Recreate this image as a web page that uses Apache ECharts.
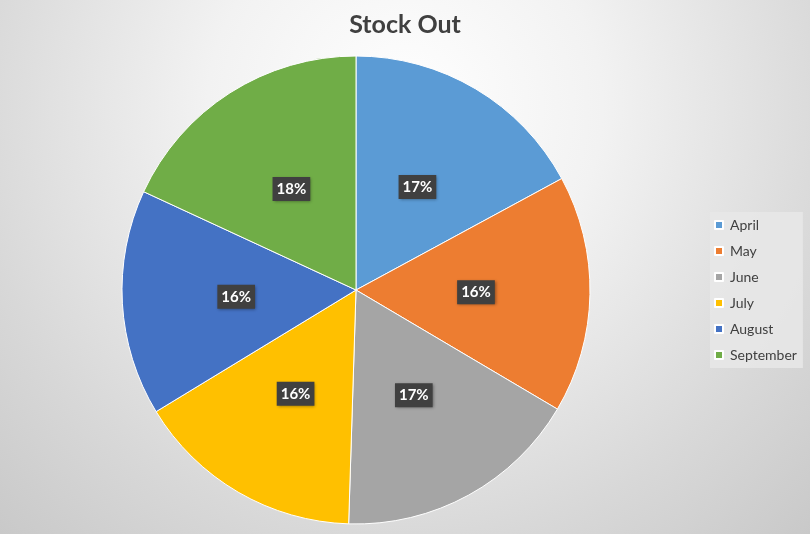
<!DOCTYPE html>
<html>
<head>
<meta charset="utf-8">
<script src="https://cdn.jsdelivr.net/npm/echarts@6/dist/echarts.min.js"></script>
<style>html,body{margin:0;padding:0;}#c{width:810px;height:534px;}</style>
</head>
<body>
<div id="c"></div>
<script>
const title = 'Stock Out';
const months = ['April', 'May', 'June', 'July', 'August', 'September'];
const values = [171, 164, 170, 158, 156, 181];
const colors = ['#5B9BD5', '#ED7D31', '#A5A5A5', '#FFC000', '#4472C4', '#70AD47'];

const chart = echarts.init(document.getElementById('c'));
chart.setOption({
  animation: false,
  backgroundColor: {
    type: 'radial', x: 0.5, y: 0.2, r: 1.12,
    colorStops: [
      {offset: 0, color: '#ffffff'},
      {offset: 0.33, color: '#f2f2f2'},
      {offset: 0.73, color: '#d8d8d8'},
      {offset: 1, color: '#c8c8c8'}
    ]
  },
  title: {
    text: title, left: 'center', top: 7,
    textStyle: {fontFamily: 'Lato', fontSize: 25, fontWeight: 'bold', color: '#404040'}
  },
  legend: {
    orient: 'vertical', left: 710, top: 212,
    backgroundColor: 'rgba(232,232,232,0.85)',
    padding: [6, 6, 6, 4],
    itemWidth: 8, itemHeight: 8, itemGap: 12,
    icon: 'rect',
    textStyle: {fontFamily: 'Lato', fontSize: 14, color: '#404040', padding: [0, 0, 0, 2]},
    data: months
  },
  series: [{
    type: 'pie',
    center: [356, 290],
    radius: 234,
    startAngle: 90,
    clockwise: true,
    itemStyle: {borderColor: '#ffffff', borderWidth: 1},
    label: {
      show: true, position: 'inside',
      formatter: p => Math.round(p.percent) + '%',
      backgroundColor: '#404040', color: '#ffffff',
      fontFamily: 'Lato', fontWeight: 'bold', fontSize: 15,
      padding: [5, 4, 4, 4],
      shadowColor: 'rgba(0,0,0,0.4)', shadowBlur: 3, shadowOffsetX: 1, shadowOffsetY: 1
    },
    labelLine: {show: false},
    emphasis: {disabled: true},
    data: months.map((m, i) => ({name: m, value: values[i], itemStyle: {color: colors[i]}}))
  }]
});
</script>
</body>
</html>
